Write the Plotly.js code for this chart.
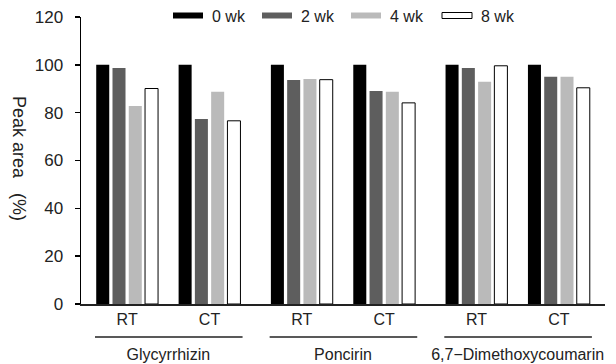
<!DOCTYPE html>
<html>
<head>
<meta charset="utf-8">
<script src="https://cdn.plot.ly/plotly-3.0.1.min.js"></script>
<style>html,body{margin:0;padding:0;background:#fff;}#chart{width:616px;height:364px;}</style>
</head>
<body>
<div id="chart"></div>
<script>
// ---- data ----
const compounds = ['Glycyrrhizin', 'Poncirin', '6,7\u2212Dimethoxycoumarin'];
const conditions = ['RT', 'CT'];
const weeks = ['0 wk', '2 wk', '4 wk', '8 wk'];
// order: Glycyrrhizin RT, CT, Poncirin RT, CT, 6,7-Dimethoxycoumarin RT, CT
const wk0 = [100, 100, 100, 100, 100, 100];
const wk2 = [98.7, 77.4, 93.7, 89.1, 98.7, 95.0];
const wk4 = [82.8, 88.7, 94.1, 88.7, 92.9, 95.0];
const wk8 = [90.1, 76.6, 93.8, 84.1, 99.6, 90.4];
const yTicks = [0, 20, 40, 60, 80, 100, 120];
const yTitle = 'Peak area\u00a0\u00a0\u00a0(%)';

// ---- styles ----
const weekValues = [wk0, wk2, wk4, wk8];
const fills = ['#000000', '#5e5e5e', '#bababa', '#ffffff'];
const outlines = [0, 0, 0, 1];
const FONT = '"Liberation Sans", Arial, sans-serif';
const TXT = '#222222';

const traces = [];
compounds.forEach((c, i) => {
  weeks.forEach((w, k) => {
    traces.push({
      type: 'bar',
      name: w,
      x: conditions,
      y: [weekValues[k][2 * i], weekValues[k][2 * i + 1]],
      xaxis: i === 0 ? 'x' : 'x' + (i + 1),
      yaxis: 'y',
      marker: {color: fills[k], line: {color: '#000', width: outlines[k]}},
      showlegend: false,
      hoverinfo: 'skip'
    });
  });
});

// plot area geometry (pixels)
const W = 616, H = 364, mL = 81, mR = 11, mT = 17, mB = 60;
const pw = W - mL - mR, ph = H - mT - mB;
const px = v => (v - mL) / pw;
const py = v => (H - mB - v) / ph;

const layout = {
  width: W, height: H,
  margin: {l: mL, r: mR, t: mT, b: mB, pad: 0},
  paper_bgcolor: '#fff', plot_bgcolor: '#fff',
  font: {family: FONT, size: 16, color: TXT},
  barmode: 'group', bargap: 0.21, bargroupgap: 0.2,
  yaxis: {
    range: [0, 120], tickvals: yTicks, ticks: 'outside', ticklen: 5, tickwidth: 1.5,
    tickcolor: '#000', showline: true, linecolor: '#000', linewidth: 1.5,
    showgrid: false, zeroline: false, tickfont: {size: 17, color: TXT},
    ticklabelstandoff: 8,
    fixedrange: true
  },
  shapes: [],
  annotations: [{
    xref: 'paper', yref: 'paper', x: px(19), y: py(158), xanchor: 'center', yanchor: 'middle',
    textangle: 90, showarrow: false, text: yTitle, font: {size: 18, color: TXT}
  }]
};
const domains = [[0, 1 / 3], [1 / 3, 2 / 3], [2 / 3, 1]];
compounds.forEach((c, i) => {
  const key = i === 0 ? 'xaxis' : 'xaxis' + (i + 1);
  layout[key] = {
    domain: domains[i], anchor: 'y', range: [-0.56, 1.56],
    type: 'category', showline: true, linecolor: '#222', linewidth: 1.5,
    ticks: '', showgrid: false, zeroline: false,
    tickfont: {size: 16, color: TXT},
    title: {text: c, font: {size: 16, color: TXT}, standoff: 22},
    fixedrange: true
  };
  const xr = i === 0 ? 'x domain' : 'x' + (i + 1) + ' domain';
  layout.shapes.push({type: 'line', xref: xr, yref: 'paper', x0: 0.08, x1: 0.925,
    y0: py(337), y1: py(337), line: {color: '#222', width: 1.5}});
});

// legend (drawn manually to mimic flat swatches)
const legX = [173, 262, 351, 442];
weeks.forEach((w, k) => {
  layout.shapes.push({type: 'rect', xref: 'paper', yref: 'paper',
    x0: px(legX[k]), x1: px(legX[k] + 30), y0: py(18.5), y1: py(12.5),
    fillcolor: fills[k], line: {color: '#000', width: outlines[k] ? 1 : 0}});
  layout.annotations.push({xref: 'paper', yref: 'paper', x: px(legX[k] + 37), y: py(16),
    xanchor: 'left', yanchor: 'middle', showarrow: false, text: w,
    font: {size: 16, color: TXT}});
});

Plotly.newPlot('chart', traces, layout, {displayModeBar: false, staticPlot: true});
</script>
</body>
</html>
